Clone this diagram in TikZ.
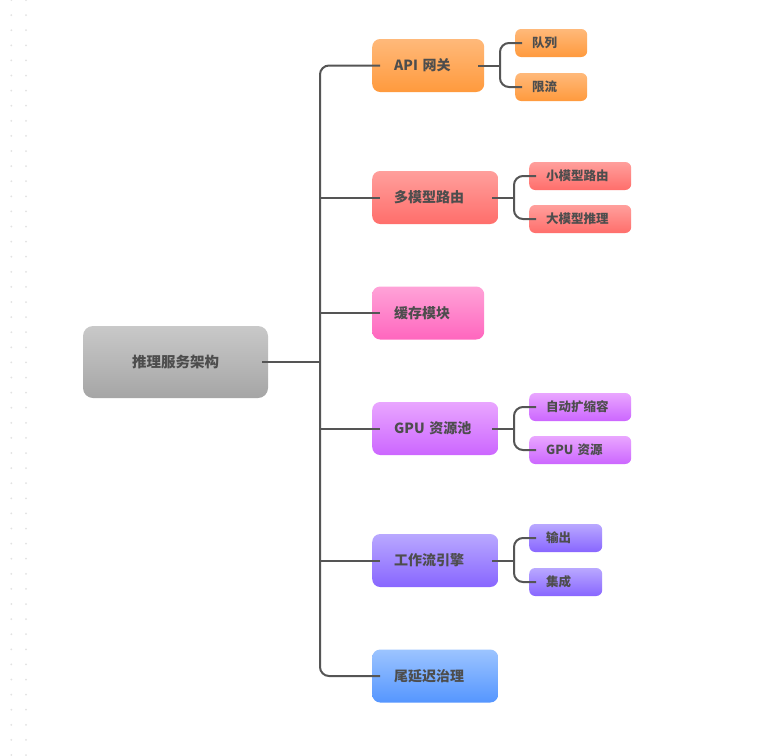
\documentclass[tikz,border=0pt]{standalone}
\usepackage{fontspec}
\setmainfont{Noto Sans CJK SC}
\definecolor{txt}{HTML}{4D4D4D}
\definecolor{ln}{HTML}{555555}
\definecolor{dotc}{HTML}{E2E2E2}
\definecolor{rootT}{HTML}{C9C9C9}\definecolor{rootB}{HTML}{A5A5A5}
\definecolor{orT}{HTML}{FFB97A}\definecolor{orB}{HTML}{FF9A3D}
\definecolor{rdT}{HTML}{FF9F9C}\definecolor{rdB}{HTML}{FF6E6B}
\definecolor{pkT}{HTML}{FFA3D8}\definecolor{pkB}{HTML}{FF66BE}
\definecolor{vlT}{HTML}{E9A6FF}\definecolor{vlB}{HTML}{CC66FF}
\definecolor{puT}{HTML}{B9A8FF}\definecolor{puB}{HTML}{8866FF}
\definecolor{blT}{HTML}{9CC4FF}\definecolor{blB}{HTML}{5596FF}
\tikzset{
  rootbox/.style={rounded corners=10pt, minimum width=185pt, minimum height=72pt,
    top color=rootT, bottom color=rootB, text=txt, inner sep=0pt,
    font=\bfseries\fontsize{14.5}{16}\selectfont},
  mainbox/.style={rounded corners=8pt, minimum height=53pt, inner xsep=22pt, inner ysep=0pt,
    text=txt, align=left, anchor=west, font=\bfseries\fontsize{14}{16}\selectfont},
  subbox/.style={rounded corners=6pt, minimum height=28pt, inner xsep=17pt, inner ysep=0pt,
    text=txt, align=left, anchor=west, font=\bfseries\fontsize{12.5}{14}\selectfont},
  link/.style={draw=ln, line width=2pt, rounded corners=9pt},
  orange/.style={top color=orT, bottom color=orB},
  red/.style={top color=rdT, bottom color=rdB},
  pink/.style={top color=pkT, bottom color=pkB},
  violet/.style={top color=vlT, bottom color=vlB},
  purple/.style={top color=puT, bottom color=puB},
  blue/.style={top color=blT, bottom color=blB}
}
\begin{document}
\begin{tikzpicture}[x=1pt, y=-1pt]
\useasboundingbox (0,0) rectangle (760,755);
\fill[white] (0,0) rectangle (760,755);
\foreach \k in {0,...,50} {
  \fill[dotc] (11.3,{15.1*\k}) circle (1pt);
  \fill[dotc] (26,{15.1*\k}) circle (1pt);
}
% root
\node[rootbox] (root) at (175.5,362) {推理服务架构};
% main nodes
\node[mainbox, orange, text width=68pt] (api) at (372,65.5) {API 网关};
\node[mainbox, red, text width=82pt] (multi) at (372,197.5) {多模型路由};
\node[mainbox, pink, text width=68pt] (cache) at (372,313) {缓存模块};
\node[mainbox, violet, text width=82pt] (gpu) at (372,428.5) {GPU 资源池};
\node[mainbox, purple, text width=82pt] (flow) at (372,560.5) {工作流引擎};
\node[mainbox, blue, text width=82pt] (tail) at (372,676) {尾延迟治理};
% children
\node[subbox, orange, text width=38pt] (queue) at (515,43) {队列};
\node[subbox, orange, text width=38pt] (limit) at (515,87) {限流};
\node[subbox, red, text width=68pt] (small) at (529,176) {小模型路由};
\node[subbox, red, text width=68pt] (large) at (529,219) {大模型推理};
\node[subbox, violet, text width=68pt] (scale) at (529,407) {自动扩缩容};
\node[subbox, violet, text width=68pt] (gres) at (529,450) {GPU 资源};
\node[subbox, purple, text width=39pt] (out) at (529,538) {输出};
\node[subbox, purple, text width=39pt] (integ) at (529,582) {集成};
% connectors
\coordinate (tk) at (320,362);
\draw[link] ([xshift=-6pt]root.east) -- (tk);
\draw[link] ([xshift=8pt]api.west) -| (tk) |- ([xshift=8pt]tail.west);
\draw[link] (tk |- multi.west) -- ([xshift=8pt]multi.west);
\draw[link] (tk |- cache.west) -- ([xshift=8pt]cache.west);
\draw[link] (tk |- gpu.west) -- ([xshift=8pt]gpu.west);
\draw[link] (tk |- flow.west) -- ([xshift=8pt]flow.west);
% sub brackets
\coordinate (b1) at (500,65.5);
\draw[link] ([xshift=-6pt]api.east) -- (b1);
\draw[link] ([xshift=7pt]queue.west) -| (b1) |- ([xshift=7pt]limit.west);
\coordinate (b2) at (514,197.5);
\draw[link] ([xshift=-6pt]multi.east) -- (b2);
\draw[link] ([xshift=7pt]small.west) -| (b2) |- ([xshift=7pt]large.west);
\coordinate (b3) at (514,428.5);
\draw[link] ([xshift=-6pt]gpu.east) -- (b3);
\draw[link] ([xshift=7pt]scale.west) -| (b3) |- ([xshift=7pt]gres.west);
\coordinate (b4) at (514,560.5);
\draw[link] ([xshift=-6pt]flow.east) -- (b4);
\draw[link] ([xshift=7pt]out.west) -| (b4) |- ([xshift=7pt]integ.west);
\end{tikzpicture}
\end{document}
